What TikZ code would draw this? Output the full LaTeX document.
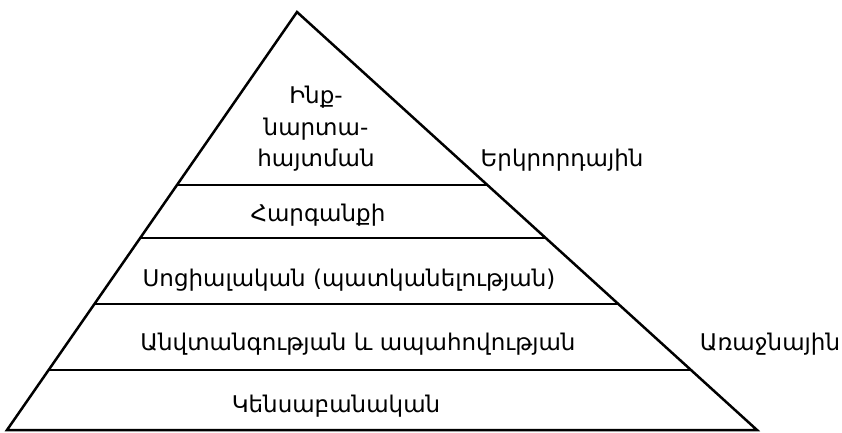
\documentclass[tikz,border=0pt]{standalone}
\usepackage{fontspec}
\setmainfont{DejaVu Sans}
\usetikzlibrary{calc}
\begin{document}
\begin{tikzpicture}[x=1pt,y=-1pt,
  edge/.style={line width=2.5pt, line join=miter},
  lbl/.style={font=\fontsize{23}{28}\selectfont, inner sep=0pt, anchor=base, align=center}]
\useasboundingbox (0,0) rectangle (842,432);
\coordinate (A) at (297,12);
\coordinate (BL) at (7,430);
\coordinate (BR) at (757,430);
\draw[edge] (BL) -- (A) -- (BR) -- cycle;
\foreach \n/\t in {1/0.4139,2/0.5407,3/0.6986,4/0.8565} {
  \coordinate (L\n) at ($(A)!\t!(BL)$);
  \coordinate (R\n) at ($(A)!\t!(BR)$);
  \draw[edge] (L\n) -- (R\n);
}
\node[lbl] (t1) at (316,103) {Ինք-};
\node[lbl] (t2) at (316,135) {նարտա-};
\node[lbl] (t3) at (316,166) {հայտման};
\node[lbl] (sec) at (562,166) {Երկրորդային};
\node[lbl] (resp) at (318,221) {Հարգանքի};
\node[lbl] (soc) at (349,286) {Սոցիալական (պատկանելության)};
\node[lbl] (saf) at (358,350) {Անվտանգության և ապահովության};
\node[lbl] (prim) at (770,350) {Առաջնային};
\node[lbl] (bio) at (336,412) {Կենսաբանական};
\end{tikzpicture}
\end{document}
